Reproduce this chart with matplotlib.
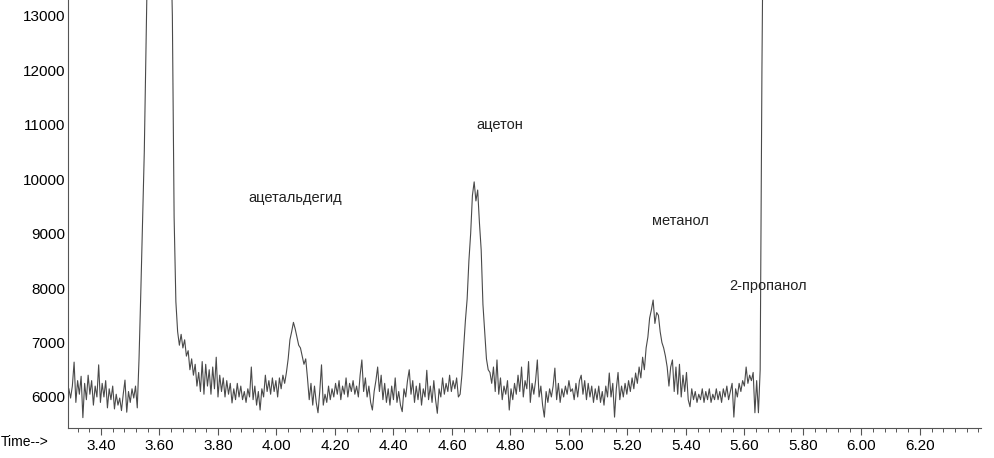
import numpy as np
import matplotlib.pyplot as plt
from matplotlib.ticker import MultipleLocator, FormatStrFormatter

plt.rcParams['font.family'] = ['Liberation Sans', 'DejaVu Sans']

# detector trace, sampled every 0.006 min starting at 3.290 min
t_start = 3.290
t_step = 0.006
signal = [
    6150, 5980, 6200, 6640, 5900, 6300, 6050, 6380, 5620, 6250,
    5950, 6400, 6050, 6300, 5850, 6200, 6000, 6590, 5900, 6250,
    6000, 6300, 5800, 6150, 5950, 6200, 5780, 6050, 5850, 5980,
    5750, 6050, 6310, 5720, 6100, 5900, 6150, 5980, 6200, 5800,
    6700, 7900, 9200, 10500, 12400, 14500, 17000, 19500, 21500, 23000,
    24000, 24500, 24000, 23000, 21500, 19500, 17500, 15500, 14600, 13000,
    9300, 7750, 7200, 6950, 7150, 6900, 7050, 6750, 6850, 6500,
    6700, 6400, 6600, 6200, 6450, 6100, 6650, 6050, 6600, 6200,
    6500, 6050, 6550, 6150, 6730, 6000, 6400, 6100, 6350, 6000,
    6300, 6050, 6250, 5890, 6150, 5950, 6250, 6000, 6200, 5950,
    6100, 5900, 6150, 6000, 6550, 5950, 6200, 5850, 6100, 5760,
    6150, 6000, 6400, 6100, 6300, 6050, 6350, 6100, 6300, 6000,
    6350, 6150, 6400, 6250, 6450, 6700, 7050, 7200, 7370, 7250,
    7100, 6950, 6900, 6750, 6600, 6700, 6350, 5950, 6250, 5850,
    6200, 5900, 5710, 6100, 6590, 5850, 6050, 5900, 6200, 5950,
    6150, 6000, 6250, 6050, 6300, 5950, 6200, 6050, 6350, 6000,
    6250, 6100, 6300, 6050, 6200, 6000, 6400, 6680, 6100, 6350,
    6000, 6200, 5900, 5760, 6100, 6300, 6550, 6100, 6400, 5950,
    6250, 5900, 6150, 5850, 6200, 5950, 6350, 5900, 6100, 5850,
    5730, 6150, 6000, 6300, 6500, 6050, 6300, 5900, 6200, 5950,
    6250, 5850, 6150, 6000, 6490, 5950, 6200, 5900, 6300, 5950,
    5700, 6150, 6000, 6350, 6050, 6250, 6100, 6400, 6100, 6300,
    6150, 6350, 6000, 6050, 6400, 6900, 7400, 7800, 8500, 9000,
    9700, 9950, 9600, 9800, 9200, 8700, 7700, 7200, 6700, 6500,
    6450, 6250, 6550, 6100, 6680, 6050, 6350, 5950, 6200, 6050,
    6300, 5760, 6150, 5950, 6250, 6050, 6400, 6100, 6550, 6000,
    6300, 6150, 6650, 5900, 6250, 6050, 6300, 6680, 6000, 6200,
    5850, 5630, 6100, 5900, 6150, 6000, 6200, 6530, 5950, 6250,
    5900, 6150, 6000, 6200, 6050, 6300, 6100, 6150, 5950, 6250,
    6000, 6300, 6400, 6050, 6300, 5950, 6250, 6000, 6200, 5900,
    6150, 5950, 6200, 5900, 6100, 5850, 6200, 6000, 6440, 6000,
    6250, 5630, 6150, 6450, 5950, 6200, 6000, 6250, 6050, 6300,
    6100, 6350, 6150, 6440, 6250, 6550, 6350, 6730, 6500, 6900,
    7100, 7450, 7600, 7780, 7350, 7550, 7500, 7200, 7000, 6900,
    6750, 6550, 6200, 6550, 6680, 6100, 6550, 6050, 6600, 6000,
    6400, 6100, 6450, 5950, 5820, 6150, 5950, 6100, 5900, 6050,
    5950, 6150, 5900, 6100, 5950, 6150, 5900, 6050, 5950, 6150,
    5950, 6100, 5900, 6150, 6000, 6200, 5950, 6100, 6250, 5630,
    6150, 6000, 6250, 6100, 6300, 6200, 6550, 6250, 6400, 6300,
    6450, 5710, 6300, 5710, 6500, 12000, 16000,
]

# peak labels (text, time, abundance)
peak_names = ["ацетальдегид", "ацетон", "метанол", "2-пропанол"]
peak_x = [4.063, 4.764, 5.382, 5.682]
peak_y = [9645, 11000, 9240, 8030]

time = t_start + t_step * np.arange(len(signal))

fig = plt.figure(figsize=(9.95, 4.58), dpi=100)
ax = fig.add_axes([0.0683, 0.0655, 0.9176, 0.9345])

ax.plot(time, signal, color="#4a4a4a", linewidth=0.8)

for name, x, y in zip(peak_names, peak_x, peak_y):
    ax.text(x, y, name, ha="center", va="center", fontsize=10.5, color="#222222")

ax.set_xlim(3.287, 6.409)
ax.set_ylim(5430, 13290)

ax.xaxis.set_minor_locator(MultipleLocator(0.04))
ax.xaxis.set_major_formatter(FormatStrFormatter("%.2f"))
ax.yaxis.set_major_locator(MultipleLocator(1000))
ax.set_xticks([3.4, 3.6, 3.8, 4.0, 4.2, 4.4, 4.6, 4.8, 5.0, 5.2, 5.4,
               5.6, 5.8, 6.0, 6.2])

ax.tick_params(axis="x", which="major", direction="out", length=5,
               width=0.8, color="#555555", labelsize=11, pad=3)
ax.tick_params(axis="x", which="minor", direction="out", length=3,
               width=0.7, color="#555555")
ax.tick_params(axis="y", length=0, pad=2, labelsize=11)

for side in ("top", "right"):
    ax.spines[side].set_visible(False)
for side in ("left", "bottom"):
    ax.spines[side].set_color("#555555")
    ax.spines[side].set_linewidth(0.8)

fig.text(0.001, 0.035, "Time-->", ha="left", va="center", fontsize=10)

fig.savefig("out.png", dpi=100)
plt.close(fig)
